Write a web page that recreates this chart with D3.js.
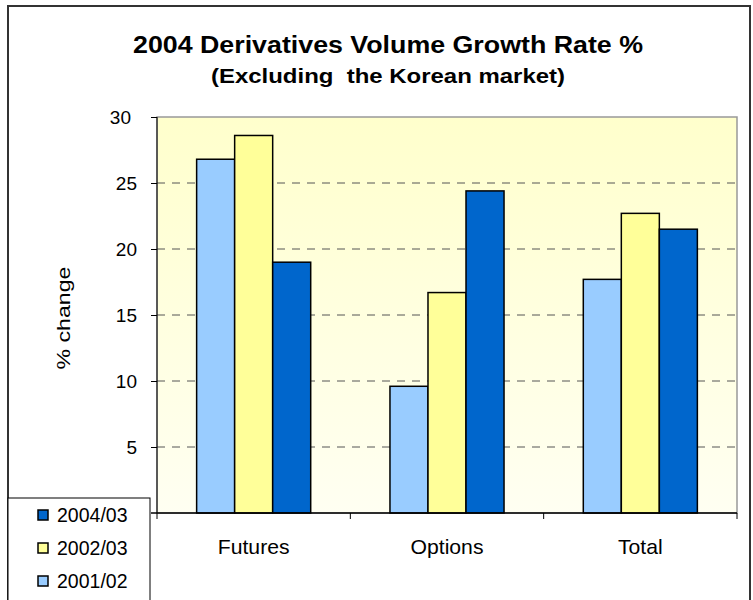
<!DOCTYPE html>
<html><head><meta charset="utf-8">
<script src="https://cdn.jsdelivr.net/npm/d3@7"></script>
<style>body{margin:0;background:#fff}svg{display:block}text{font-family:"Liberation Sans",Arial,sans-serif;fill:#000}</style>
</head><body>
<script>
const categories = ["Futures", "Options", "Total"];
const seriesNames = ["2001/02", "2002/03", "2004/03"];
const values2001_02 = [26.8, 9.6, 17.7];
const values2002_03 = [28.6, 16.7, 22.7];
const values2004_03 = [19.0, 24.4, 21.5];
const yTicks = [5, 10, 15, 20, 25, 30];
const colors = ["#99CCFF", "#FFFF99", "#0066CC"];
const legendOrder = ["2004/03", "2002/03", "2001/02"];
const seriesValues = [values2001_02, values2002_03, values2004_03];

const W = 753, H = 600;
const svg = d3.select("body").append("svg").attr("width", W).attr("height", H);
const m = {left: 157, right: 737, top: 117, bottom: 513};

const defs = svg.append("defs");
const grad = defs.append("linearGradient").attr("id", "bg").attr("x1", 0).attr("y1", 0).attr("x2", 0).attr("y2", 1);
grad.append("stop").attr("offset", "0%").attr("stop-color", "#FFFFCC");
grad.append("stop").attr("offset", "100%").attr("stop-color", "#FFFFF2");

// outer border
svg.append("rect").attr("x", 8).attr("y", 6).attr("width", 742).attr("height", 620)
  .attr("fill", "#fff").attr("stroke", "#333").attr("stroke-width", 2);

const x = d3.scaleBand().domain(categories).range([m.left, m.right]).paddingInner(0.41).paddingOuter(0.205);
const xi = d3.scaleBand().domain(seriesNames).range([0, x.bandwidth()]);
const y = d3.scaleLinear().domain([0, 30]).range([m.bottom, m.top]);

// plot background
svg.append("rect").attr("x", m.left).attr("y", m.top).attr("width", m.right - m.left).attr("height", m.bottom - m.top)
  .attr("fill", "url(#bg)").attr("stroke", "#999").attr("stroke-width", 1.5);

// gridlines
svg.append("g").selectAll("line").data(yTicks.filter(t => t < 30)).join("line")
  .attr("x1", m.left).attr("x2", m.right).attr("y1", d => y(d)).attr("y2", d => y(d))
  .attr("stroke", "#555").attr("stroke-width", 1).attr("stroke-dasharray", "8,7");

// bars
const groups = svg.append("g").selectAll("g").data(seriesNames).join("g");
groups.each(function(s, si) {
  d3.select(this).selectAll("rect").data(categories).join("rect")
    .attr("x", c => x(c) + xi(s))
    .attr("y", (c, ci) => y(seriesValues[si][ci]))
    .attr("width", xi.bandwidth())
    .attr("height", (c, ci) => y(0) - y(seriesValues[si][ci]))
    .attr("fill", colors[si]).attr("stroke", "#000").attr("stroke-width", 1.5);
});

// y axis
const yAxis = d3.axisLeft(y).tickValues(yTicks).tickSize(6).tickPadding(14);
const ya = svg.append("g").attr("transform", `translate(${m.left},0)`).call(yAxis);
ya.select(".domain").attr("stroke", "#000").attr("d", `M0,${m.top}V${m.bottom}`);
ya.selectAll(".tick line").attr("stroke", "#000");
ya.selectAll("text").style("font-size", "19px").attr("fill", "#000").attr("dy", "0.36em")
  .attr("dx", d => d === 30 ? -6 : 0);

// x axis
svg.append("line").attr("x1", m.left - 6).attr("x2", m.right).attr("y1", m.bottom).attr("y2", m.bottom).attr("stroke", "#000").attr("stroke-width", 1.5);
const bounds = [m.left].concat(categories.map(c => x(c) + x.bandwidth() + x.step() * x.paddingInner() / 2));
svg.append("g").selectAll("line").data(bounds).join("line")
  .attr("x1", d => d).attr("x2", d => d).attr("y1", m.bottom).attr("y2", m.bottom + 6).attr("stroke", "#000");
svg.append("g").selectAll("text").data(categories).join("text")
  .attr("x", c => x(c) + x.bandwidth() / 2).attr("y", 554).attr("text-anchor", "middle")
  .style("font-size", "20px")
  .attr("transform", c => { const cx = x(c) + x.bandwidth() / 2; return `translate(${cx},0) scale(1.06,1) translate(${-cx},0)`; })
  .text(c => c);

// y label
svg.append("text").attr("transform", "translate(70,318) rotate(-90)").attr("text-anchor", "middle")
  .style("font-size", "18px").attr("textLength", 103).attr("lengthAdjust", "spacingAndGlyphs").text("% change");

// title
svg.append("text").attr("x", 388).attr("y", 53).attr("text-anchor", "middle")
  .style("font-size", "23px").style("font-weight", "bold")
  .attr("textLength", 510).attr("lengthAdjust", "spacingAndGlyphs")
  .text("2004 Derivatives Volume Growth Rate %");
svg.append("text").attr("x", 388).attr("y", 83).attr("text-anchor", "middle")
  .style("font-size", "21px").style("font-weight", "bold").attr("xml:space", "preserve")
  .attr("textLength", 354).attr("lengthAdjust", "spacingAndGlyphs")
  .text("(Excluding  the Korean market)");

// legend
const lg = svg.append("g");
lg.append("rect").attr("x", 8).attr("y", 498).attr("width", 142).attr("height", 120)
  .attr("fill", "#fff").attr("stroke", "#000").attr("stroke-width", 1);
const li = lg.selectAll("g").data(legendOrder).join("g")
  .attr("transform", (d, i) => `translate(0,${515 + i * 33})`);
li.append("rect").attr("x", 38).attr("y", -5).attr("width", 10).attr("height", 10)
  .attr("fill", d => colors[seriesNames.indexOf(d)]).attr("stroke", "#000").attr("stroke-width", 1.5);
li.append("text").attr("x", 57).attr("y", 7).style("font-size", "19.5px").text(d => d);
</script>
</body></html>
